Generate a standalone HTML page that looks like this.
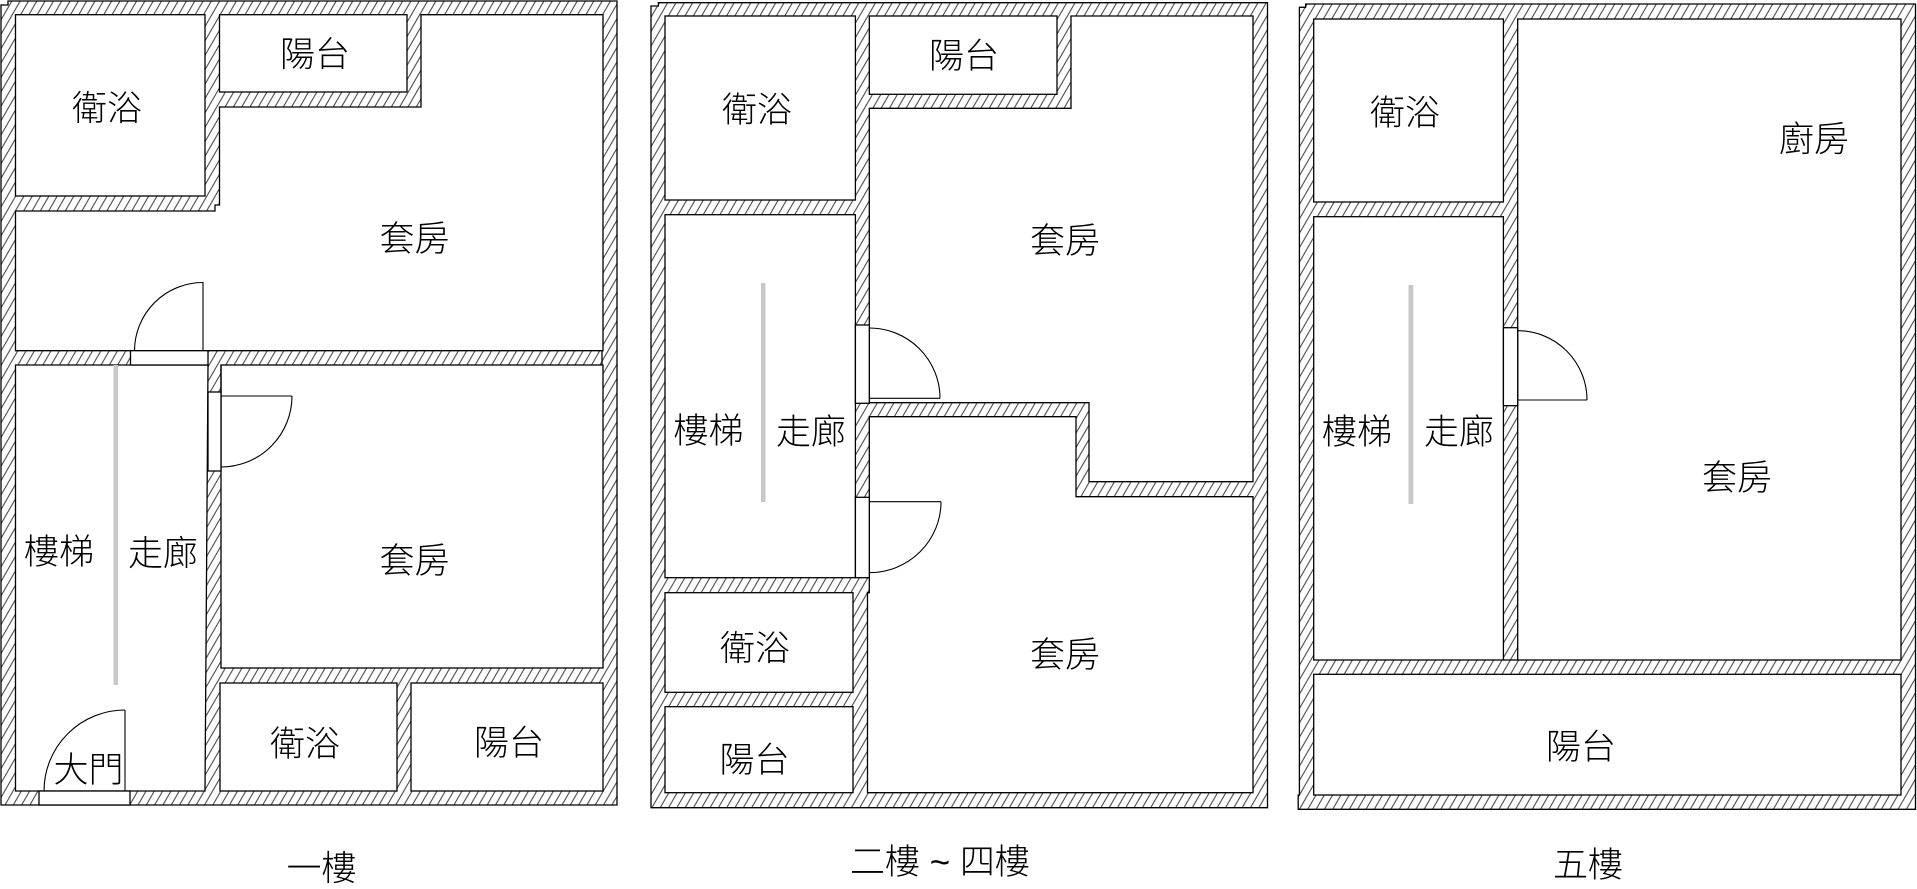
<!DOCTYPE html>
<html>
<head>
<meta charset="utf-8">
<style>
html,body{margin:0;padding:0;background:#fff;}
svg{display:block;}
text{font-family:"Liberation Sans","Noto Sans CJK TC","Noto Sans CJK SC",sans-serif;font-size:35px;font-weight:300;fill:#000;text-anchor:middle;}
</style>
</head>
<body>
<svg width="1917" height="889" viewBox="0 0 1917 889" xmlns="http://www.w3.org/2000/svg">
<defs>
<pattern id="h" patternUnits="userSpaceOnUse" width="7.2" height="10" patternTransform="rotate(30)">
<rect width="7.2" height="10" fill="#fff"/>
<line x1="3.6" y1="-1" x2="3.6" y2="11" stroke="#222" stroke-width="0.9"/>
</pattern>
</defs>
<rect width="1917" height="889" fill="#fff"/>

<g stroke="#000" stroke-width="1.3" fill="#fff">
<!-- ===== Plan 1 ===== -->
<polygon points="1,5 8,5 8,1 617,1 617,805 1,805" fill="url(#h)"/>
<rect x="15.5" y="14.7" width="189.5" height="181.3"/>
<rect x="219.5" y="14.7" width="187.5" height="77.3"/>
<polygon points="15.5,211 215,211 215,205 219.5,205 219.5,107 421,107 421,14.7 603,14.7 603,350.7 15.5,350.7"/>
<polygon points="15.5,365 208,365 205,791 15.5,791"/>
<rect x="221" y="365" width="382" height="303"/>
<rect x="220" y="683" width="177" height="108"/>
<rect x="411" y="683" width="192" height="108"/>
<line x1="602" y1="350.7" x2="602" y2="365"/>
<line x1="221" y1="365" x2="221" y2="392"/>
<!-- doors -->
<rect x="130.5" y="350.7" width="77.5" height="14.3"/>
<rect x="208" y="392" width="13" height="79"/>
<rect x="39" y="791" width="91" height="14"/>
</g>
<g stroke="#000" stroke-width="1.1" fill="none">
<line x1="203" y1="282" x2="203" y2="351"/>
<path d="M134.5 351 A68.5 68.5 0 0 1 203 282.5"/>
<line x1="221" y1="396" x2="292" y2="396"/>
<path d="M292 396 A71 71 0 0 1 221 467"/>
<line x1="125" y1="710" x2="125" y2="791"/>
<path d="M125 710 A81 81 0 0 0 44 791"/>
</g>
<rect x="113.5" y="365" width="4.5" height="320" fill="#c8c8c8"/>

<g stroke="#000" stroke-width="1.3" fill="#fff">
<!-- ===== Plan 2 ===== -->
<polygon points="651,6 658.4,6 658.4,2.7 1267.5,2.7 1267.5,807.7 651,807.7" fill="url(#h)"/>
<rect x="665" y="16" width="190.4" height="184"/>
<rect x="869.3" y="16" width="187.7" height="78.3"/>
<polygon points="1071,16 1253,16 1253,481.7 1089,481.7 1089,402.7 869.3,402.7 869.3,108.3 1071,108.3"/>
<rect x="665" y="214.7" width="190.4" height="363"/>
<polygon points="869.3,416.7 1076,416.7 1076,496.7 1253,496.7 1253,792.7 867.5,792.7 867.5,592.7 869.3,592.7"/>
<rect x="665" y="592.7" width="188" height="99.6"/>
<rect x="665" y="706.7" width="188" height="86"/>
<!-- doors -->
<rect x="855.4" y="325" width="13.9" height="78.3"/>
<rect x="855.4" y="497.3" width="13.9" height="80.4"/>
</g>
<g stroke="#000" stroke-width="1.1" fill="none">
<line x1="869.3" y1="398.3" x2="940" y2="398.3"/>
<path d="M940 398.3 A70.7 70.3 0 0 0 869.3 328"/>
<line x1="869.3" y1="501.7" x2="941" y2="501.7"/>
<path d="M941 501.7 A71.7 71 0 0 1 869.3 572.7"/>
</g>
<rect x="761" y="283" width="4.5" height="219" fill="#c8c8c8"/>

<g stroke="#000" stroke-width="1.3" fill="#fff">
<!-- ===== Plan 3 ===== -->
<polygon points="1299.4,7.3 1305.6,7.3 1305.6,4 1915.5,4 1915.5,809.3 1298.2,809.3 1298.2,795 1299.4,795" fill="url(#h)"/>
<rect x="1313.7" y="19" width="189.7" height="183"/>
<rect x="1313.7" y="216.7" width="189.7" height="443.3"/>
<rect x="1517.7" y="19" width="383.3" height="641"/>
<rect x="1313.7" y="674.3" width="587.3" height="120.7"/>
<line x1="1503.4" y1="660" x2="1517.7" y2="660"/>
<!-- door -->
<rect x="1503.4" y="327.7" width="14.3" height="78"/>
</g>
<g stroke="#000" stroke-width="1.1" fill="none">
<line x1="1517.7" y1="400" x2="1587" y2="400"/>
<path d="M1587 400 A69.3 69.3 0 0 0 1517.7 330.7"/>
</g>
<rect x="1408.5" y="285" width="4.8" height="219" fill="#c8c8c8"/>

<!-- ===== Labels ===== -->
<text x="107" y="120.5">衛浴</text>
<text x="315" y="66.5">陽台</text>
<text x="414.5" y="251">套房</text>
<text x="59" y="564">樓梯</text>
<text x="163" y="565.5">走廊</text>
<text x="414.5" y="573">套房</text>
<text x="88.5" y="782">大門</text>
<text x="305" y="756">衛浴</text>
<text x="509" y="755">陽台</text>
<text x="321.5" y="880.5">一樓</text>

<text x="757" y="122">衛浴</text>
<text x="964" y="68">陽台</text>
<text x="1065" y="253">套房</text>
<text x="708.5" y="443">樓梯</text>
<text x="811" y="444">走廊</text>
<text x="755" y="660.5">衛浴</text>
<text x="754.5" y="772">陽台</text>
<text x="1065" y="667">套房</text>
<text x="940" y="874">二樓 ~ 四樓</text>

<text x="1405" y="125">衛浴</text>
<text x="1814" y="151.5">廚房</text>
<text x="1357" y="444">樓梯</text>
<text x="1459" y="444">走廊</text>
<text x="1737" y="490">套房</text>
<text x="1581" y="759">陽台</text>
<text x="1588" y="877">五樓</text>
</svg>
</body>
</html>
